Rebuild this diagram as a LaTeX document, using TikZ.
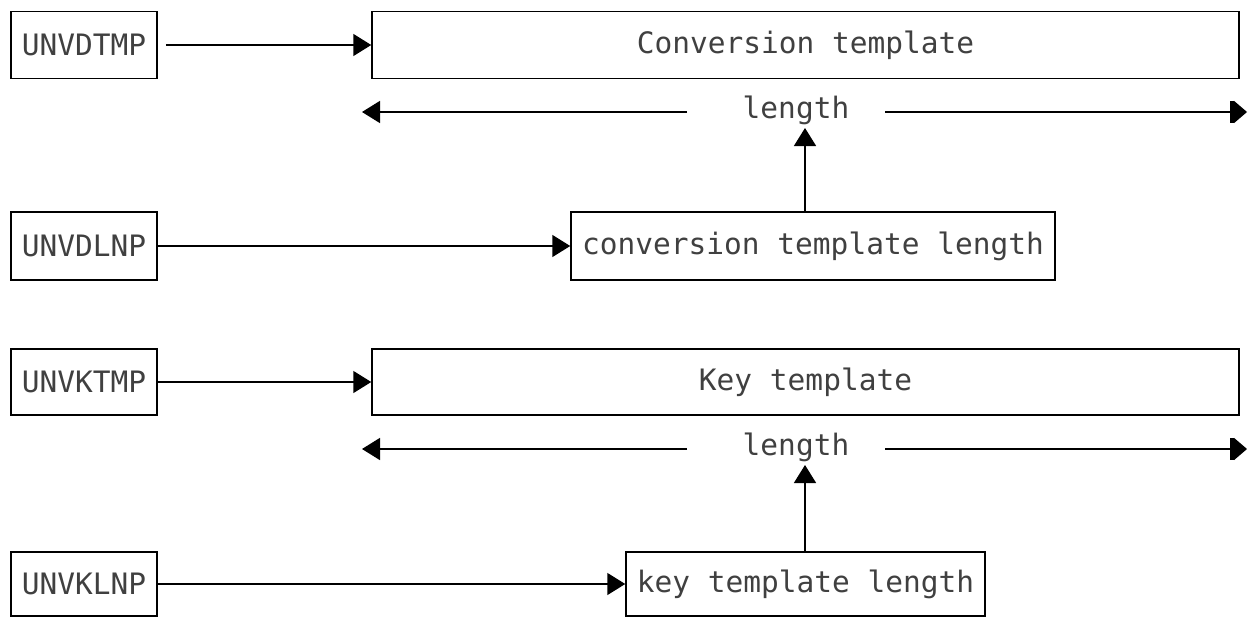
\documentclass[tikz,border=0pt]{standalone}
\usepackage{fontspec}
\setmonofont{DejaVu Sans Mono}
\usetikzlibrary{arrows.meta}
\begin{document}
\begin{tikzpicture}[x=1pt,y=-1pt,
  txt/.style={font=\ttfamily\fontsize{29.5}{30}\selectfont, text=black!75, inner sep=0pt},
  box/.style={txt, draw, line width=1.5pt},
  conn/.style={line width=1.5pt, -{Triangle[length=18pt,width=22pt]}},
  dim/.style={line width=1.5pt, -{Triangle[length=18pt,width=22pt]}},
  dimbar/.style={line width=1.5pt, -{Bar[width=22pt,line width=4pt]Triangle[length=13pt,width=22pt]}}]
\useasboundingbox[fill=white] (0,0) rectangle (1251,618);

% Row 1
\node[box, minimum width=146pt, minimum height=67pt] (dtmp) at (84,45) {UNVDTMP};
\node[box, minimum width=867pt, minimum height=67pt] (ctmp) at (805.5,45) {Conversion template};
\draw[conn, shorten <=8pt] (dtmp.east) -- (ctmp.west);

% Length 1
\node[txt] (len1) at (796,110) {length};
\coordinate (l1a) at (362,112);
\coordinate (l1b) at (687,112);
\coordinate (l1c) at (885,112);
\coordinate (l1d) at (1247,112);
\coordinate (v1) at (805,128);
\draw[dim] (l1b) -- (l1a);
\draw[dimbar] (l1c) -- (l1d);

% Row 2
\node[box, minimum width=146pt, minimum height=68pt] (dlnp) at (84,246) {UNVDLNP};
\node[box, minimum width=484pt, minimum height=68pt] (cln) at (813,246) {conversion template length};
\draw[conn] (dlnp.east) -- (cln.west);
\draw[conn] (cln.north -| v1) -- (v1);

% Row 3
\node[box, minimum width=146pt, minimum height=66pt] (ktmp) at (84,382) {UNVKTMP};
\node[box, minimum width=867pt, minimum height=66pt] (kt) at (805.5,382) {Key template};
\draw[conn] (ktmp.east) -- (kt.west);

% Length 2
\node[txt] (len2) at (796,447) {length};
\coordinate (l2a) at (362,449);
\coordinate (l2b) at (687,449);
\coordinate (l2c) at (885,449);
\coordinate (l2d) at (1247,449);
\coordinate (v2) at (805,465);
\draw[dim] (l2b) -- (l2a);
\draw[dimbar] (l2c) -- (l2d);

% Row 4
\node[box, minimum width=146pt, minimum height=64pt] (klnp) at (84,584) {UNVKLNP};
\node[box, minimum width=359pt, minimum height=64pt] (kln) at (805.5,584) {key template length};
\draw[conn] (klnp.east) -- (kln.west);
\draw[conn] (kln.north -| v2) -- (v2);
\end{tikzpicture}
\end{document}
